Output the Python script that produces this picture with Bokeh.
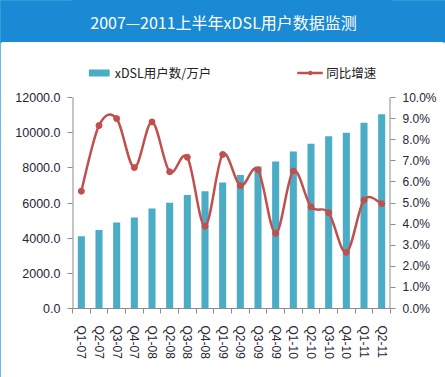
from bokeh.plotting import figure
from bokeh.layouts import column
from bokeh.models import (Range1d, LinearAxis, FixedTicker, PrintfTickFormatter,
                          Legend, LegendItem, Label)
from bokeh.embed import file_html
from bokeh.resources import INLINE

# ---- data ----
quarters = ["Q1-07", "Q2-07", "Q3-07", "Q4-07", "Q1-08", "Q2-08", "Q3-08", "Q4-08",
            "Q1-09", "Q2-09", "Q3-09", "Q4-09", "Q1-10", "Q2-10", "Q3-10", "Q4-10",
            "Q1-11", "Q2-11"]
users = [4110, 4470, 4890, 5170, 5690, 6010, 6460, 6670, 7160, 7590, 8070, 8360,
         8930, 9370, 9790, 9990, 10560, 11050]
growth = [5.56, 8.67, 9.0, 6.68, 8.84, 6.48, 7.17, 3.9, 7.3, 5.82, 6.57, 3.56,
          6.52, 4.82, 4.54, 2.66, 5.14, 4.97]
left_ticks = [0, 2000, 4000, 6000, 8000, 10000, 12000]
right_ticks = [0, 1, 2, 3, 4, 5, 6, 7, 8, 9, 10]
left_max, right_max = 12000, 10
title_text = "2007—2011上半年xDSL用户数据监测"
bar_label = "xDSL用户数/万户"
line_label = "同比增速"

BAR_COLOR = "#4BACC6"
LINE_COLOR = "#C0504D"
BANNER = "#1A8AD4"
EDGE = "#3AA5DD"
AXIS = "#8C8C8C"
TXT = "#262636"
LAT = "Liberation Sans"
CJK = "Noto Sans CJK SC"

W, H = 445, 377
BH = 42                 # banner height
TOP, BOTTOM = 14, 69    # borders of the main chart
LEFT, RIGHT = 72, 55
AX_H = 211              # height of the 0..12000 axis span in px
PAD = H - BH - TOP - BOTTOM - AX_H   # room above the axes for the legend
n = len(quarters)
xs = list(range(n))
scale_top = (AX_H + PAD) / AX_H

# ---- banner ----
b = figure(width=W, height=BH, output_backend="svg", toolbar_location=None, title=None,
           x_range=Range1d(0, 1), y_range=Range1d(0, 1),
           x_axis_location=None, y_axis_location=None,
           min_border_left=0, min_border_right=0, min_border_top=0, min_border_bottom=0)
b.grid.visible = False
b.background_fill_color = BANNER
b.border_fill_color = BANNER
b.outline_line_color = BANNER
b.outline_line_width = 2
b.add_layout(Label(x=0.475, y=0.5, text=title_text, text_align="center",
                   text_baseline="middle", text_color="white",
                   text_font=CJK, text_font_size="16px"))

# ---- main chart ----
p = figure(width=W, height=H - BH, output_backend="svg", toolbar_location=None, title=None,
           x_range=Range1d(-0.5, n - 0.5), y_range=Range1d(0, left_max * scale_top),
           min_border_left=LEFT, min_border_right=RIGHT, min_border_top=TOP,
           min_border_bottom=BOTTOM)
p.extra_y_ranges = {"pct": Range1d(0, right_max * scale_top)}
p.background_fill_color = "white"
p.border_fill_color = "white"
p.outline_line_color = None
p.xgrid.visible = False
p.ygrid.visible = False

r_bar = p.vbar(x=xs, top=users, width=0.4, fill_color=BAR_COLOR, line_color=None)

# axis lines that stop at the top tick (like the reference)
p.segment(x0=[-0.5], y0=[0], x1=[-0.5], y1=[left_max], line_color=AXIS, line_width=2)
p.segment(x0=[n - 0.5], y0=[0], x1=[n - 0.5], y1=[right_max], line_color=AXIS,
          line_width=2, y_range_name="pct")

# smoothed line: cubic Bezier control points derived from the data (Catmull-Rom)
x0, y0, x1, y1, cx0, cy0, cx1, cy1 = [], [], [], [], [], [], [], []
for i in range(n - 1):
    ip = max(i - 1, 0)
    inn = min(i + 2, n - 1)
    x0.append(xs[i]); y0.append(growth[i])
    x1.append(xs[i + 1]); y1.append(growth[i + 1])
    cx0.append(xs[i] + (xs[i + 1] - xs[ip]) / 6.0)
    cy0.append(growth[i] + (growth[i + 1] - growth[ip]) / 6.0)
    cx1.append(xs[i + 1] - (xs[inn] - xs[i]) / 6.0)
    cy1.append(growth[i + 1] - (growth[inn] - growth[i]) / 6.0)
r_curve = p.bezier(x0=x0, y0=y0, x1=x1, y1=y1, cx0=cx0, cy0=cy0, cx1=cx1, cy1=cy1,
                   line_color=LINE_COLOR, line_width=2.5, y_range_name="pct")
r_pts = p.scatter(x=xs, y=growth, size=6, fill_color=LINE_COLOR, line_color=LINE_COLOR,
                  y_range_name="pct")

xa = p.xaxis[0]
xa.ticker = FixedTicker(ticks=xs, minor_ticks=[i - 0.5 for i in range(n + 1)])
xa.major_label_overrides = {i: q for i, q in zip(xs, quarters)}
xa.major_label_orientation = "vertical"
xa.major_tick_out = 0
xa.major_tick_in = 0
xa.minor_tick_out = 5
xa.minor_tick_in = 0
xa.minor_tick_line_color = AXIS
xa.axis_line_color = AXIS
xa.major_label_standoff = 12
xa.major_label_text_font = LAT
xa.major_label_text_font_size = "12px"
xa.major_label_text_color = TXT

ya = p.yaxis[0]
ya.ticker = FixedTicker(ticks=left_ticks)
ya.formatter = PrintfTickFormatter(format="%.1f")
ya.major_tick_out = 5
ya.major_tick_in = 0
ya.minor_tick_line_color = None
ya.axis_line_color = None
ya.major_tick_line_color = AXIS
ya.major_label_standoff = 7
ya.major_label_text_font = LAT
ya.major_label_text_font_size = "12.5px"
ya.major_label_text_color = TXT

ra = LinearAxis(y_range_name="pct", ticker=FixedTicker(ticks=right_ticks),
                formatter=PrintfTickFormatter(format="%.1f%%"))
ra.major_tick_out = 5
ra.major_tick_in = 0
ra.minor_tick_line_color = None
ra.axis_line_color = None
ra.major_tick_line_color = AXIS
ra.major_label_standoff = 7
ra.major_label_text_font = LAT
ra.major_label_text_font_size = "12px"
ra.major_label_text_color = TXT
p.add_layout(ra, "right")

legend = Legend(items=[LegendItem(label=bar_label, renderers=[r_bar]),
                       LegendItem(label=line_label, renderers=[r_curve, r_pts])],
                orientation="horizontal", location="top_center", spacing=86,
                glyph_width=26, glyph_height=9, label_standoff=3, padding=2, margin=7,
                label_height=16, border_line_color=None, background_fill_alpha=0,
                label_text_font=CJK, label_text_font_size="12.5px",
                label_text_color="#202020")
p.add_layout(legend)

layout = column(b, p, spacing=0,
                styles={"outline": "2px solid " + EDGE, "outline-offset": "-2px"})
open("out.html", "w").write(file_html(layout, INLINE))
